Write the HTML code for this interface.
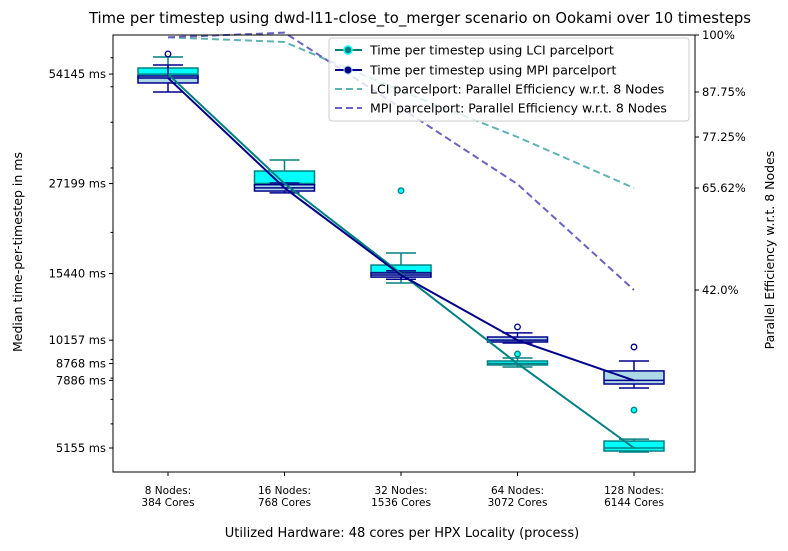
<!DOCTYPE html>
<html><head><meta charset="utf-8"><style>
html,body{margin:0;padding:0;background:#fff}
svg{display:block;font-family:"DejaVu Sans","Liberation Sans",sans-serif}
</style></head><body>
<svg id="chart" width="788" height="551" viewBox="0 0 788 551" xmlns="http://www.w3.org/2000/svg">
<text x="420" y="23" font-size="14.8" text-anchor="middle">Time per timestep using dwd-l11-close_to_merger scenario on Ookami over 10 timesteps</text>
<g id="plot"></g>
<text x="402" y="537" font-size="13" text-anchor="middle">Utilized Hardware: 48 cores per HPX Locality (process)</text>
<text transform="translate(22,252) rotate(-90)" font-size="12.5" text-anchor="middle">Median time-per-timestep in ms</text>
<text transform="translate(774,250) rotate(-90)" font-size="12.5" text-anchor="middle">Parallel Efficiency w.r.t. 8 Nodes</text>
<g>
<rect x="329" y="38" width="360" height="83" rx="3" fill="#fff" fill-opacity="0.8" stroke="#ccc"/>
<g><line x1="335" y1="50" x2="362" y2="50" stroke="#008080" stroke-width="2"/><circle cx="348" cy="50" r="4" fill="#008080" stroke="#00ffff" stroke-width="1.5"/><text x="370" y="54.5" font-size="12.5">Time per timestep using LCI parcelport</text></g>
<g><line x1="335" y1="70" x2="362" y2="70" stroke="#00008b" stroke-width="2"/><circle cx="348" cy="70" r="4" fill="#00008b" stroke="#add8e6" stroke-width="1"/><text x="370" y="74.5" font-size="12.5">Time per timestep using MPI parcelport</text></g>
<g><line x1="335" y1="89" x2="362" y2="89" stroke="#5fb3b3" stroke-width="2" stroke-dasharray="7,4"/><text x="370" y="93.5" font-size="12.5">LCI parcelport: Parallel Efficiency w.r.t. 8 Nodes</text></g>
<g><line x1="335" y1="108" x2="362" y2="108" stroke="#6a63c2" stroke-width="2" stroke-dasharray="7,4"/><text x="370" y="112.5" font-size="12.5">MPI parcelport: Parallel Efficiency w.r.t. 8 Nodes</text></g>
</g>
</svg>
<script>
const categories = ["8 Nodes:|384 Cores","16 Nodes:|768 Cores","32 Nodes:|1536 Cores","64 Nodes:|3072 Cores","128 Nodes:|6144 Cores"];
const lciMedians = [54145, 27199, 15440, 8768, 5155];
const mpiMedians = [52840, 26460, 15300, 10157, 7886];
const lciQ1 = [52600, 26800, 15550, 8690, 5058];
const lciQ3 = [56250, 29430, 16290, 8910, 5385];
const lciWhiskLo = [51500, 26300, 14550, 8580, 5025];
const lciWhiskHi = [60270, 31540, 17570, 9080, 5450];
const lciOutliers = [[], [], [26000], [9310], [6545]];
const mpiQ1 = [51200, 25950, 15100, 10040, 7710];
const mpiQ3 = [53500, 27000, 15500, 10360, 8370];
const mpiWhiskLo = [48360, 25640, 14900, 9975, 7520];
const mpiWhiskHi = [57330, 27300, 15700, 10630, 8910];
const mpiOutliers = [[61450], [], [], [11040], [9730]];
const lciEfficiency = [99.5, 98.5, 88.0, 77.25, 65.62];
const mpiEfficiency = [99.5, 100.5, 84.0, 66.5, 42.0];
const leftTicks = [54145, 27199, 15440, 10157, 8768, 7886, 5155];
const leftMinorTicks = [6000, 7000, 8000, 9000, 20000, 30000, 40000, 50000, 60000];
const rightTicks = [100, 87.75, 77.25, 65.62, 42.0];
const rightTickLabels = ["100%", "87.75%", "77.25%", "65.62%", "42.0%"];

const L=113, R=695, T=35, B=472;
const NS="http://www.w3.org/2000/svg";
const plot=document.getElementById('plot');
function xs(i){return 168 + i*116.5;}
function ys(v){return 448 - Math.log(v/5155)*159;}
const rPos=[35,92,137,188,290];
function yr(p){
  const t=[100,87.75,77.25,65.62,42.0];
  let i=0;
  if(p>=t[0]) i=0; else if(p<=t[4]) i=3; else {while(!(p<=t[i]&&p>=t[i+1])) i++;}
  return rPos[i]+(p-t[i])/(t[i+1]-t[i])*(rPos[i+1]-rPos[i]);
}
function el(tag,attrs,parent){const e=document.createElementNS(NS,tag);for(const k in attrs)e.setAttribute(k,attrs[k]);(parent||plot).appendChild(e);return e;}

function effLine(arr,color,name){
  const pts=arr.map((v,i)=>xs(i)+','+yr(v)).join(' ');
  const p=el('polyline',{points:pts,fill:'none',stroke:color,'stroke-width':2,'stroke-dasharray':'7,4'});
  
  
}
effLine(lciEfficiency,'#5fb3b3','lci-efficiency-line');
effLine(mpiEfficiency,'#6a63c2','mpi-efficiency-line');

function boxes(q1,q3,wl,wh,med,outl,edge,fill,ofill,name){
  for(let i=0;i<categories.length;i++){
    const g=el('g',{});
    
    
    const x=xs(i), hw=30, cw=15;
    el('line',{x1:x,x2:x,y1:ys(q3[i]),y2:ys(wh[i]),stroke:edge,'stroke-width':1.5},g);
    el('line',{x1:x,x2:x,y1:ys(q1[i]),y2:ys(wl[i]),stroke:edge,'stroke-width':1.5},g);
    el('line',{x1:x-cw,x2:x+cw,y1:ys(wh[i]),y2:ys(wh[i]),stroke:edge,'stroke-width':1.5},g);
    el('line',{x1:x-cw,x2:x+cw,y1:ys(wl[i]),y2:ys(wl[i]),stroke:edge,'stroke-width':1.5},g);
    el('rect',{x:x-hw,y:ys(q3[i]),width:2*hw,height:Math.max(1,ys(q1[i])-ys(q3[i])),fill:fill,stroke:edge,'stroke-width':1.5},g);
    el('line',{x1:x-hw,x2:x+hw,y1:ys(med[i]),y2:ys(med[i]),stroke:edge,'stroke-width':1.5},g);
    outl[i].forEach(v=>{el('circle',{cx:x,cy:ys(v),r:2.8,fill:ofill,stroke:edge,'stroke-width':1.3},g);});
  }
}
boxes(lciQ1,lciQ3,lciWhiskLo,lciWhiskHi,lciMedians,lciOutliers,'#008080','#00ffff','#00ffff','lci');
boxes(mpiQ1,mpiQ3,mpiWhiskLo,mpiWhiskHi,mpiMedians,mpiOutliers,'#00008b','#add8e6','#ffffff','mpi');

function medLine(arr,color,name){
  const pts=arr.map((v,i)=>xs(i)+','+ys(v)).join(' ');
  const p=el('polyline',{points:pts,fill:'none',stroke:color,'stroke-width':2});
  
  
}
medLine(lciMedians,'#008080','lci-median-line');
medLine(mpiMedians,'#00008b','mpi-median-line');

const fr=el('rect',{x:L,y:T,width:R-L,height:B-T,fill:'none',stroke:'#000','stroke-width':1});



leftTicks.forEach(v=>{
  const y=ys(v);
  el('line',{x1:L-4,x2:L,y1:y,y2:y,stroke:'#000'});
  const t=el('text',{x:L-7,y:y+4,'font-size':11.5,'text-anchor':'end'});
  t.textContent=v+' ms';
  
  
});
leftMinorTicks.forEach(v=>{const y=ys(v);el('line',{x1:L-2.5,x2:L,y1:y,y2:y,stroke:'#000'});});
rightTicks.forEach((v,i)=>{
  const y=yr(v);
  el('line',{x1:R,x2:R+4,y1:y,y2:y,stroke:'#000'});
  const t=el('text',{x:R+7,y:y+4,'font-size':11.5});
  t.textContent=rightTickLabels[i];
  
  
});
categories.forEach((c,i)=>{
  const x=xs(i);
  el('line',{x1:x,x2:x,y1:B,y2:B+4,stroke:'#000'});
  const parts=c.split('|');
  parts.forEach((p,j)=>{
    const t=el('text',{x:x,y:494+j*12,'font-size':10.5,'text-anchor':'middle'});
    t.textContent=p;
    
    
  });
});
</script>
</body></html>
